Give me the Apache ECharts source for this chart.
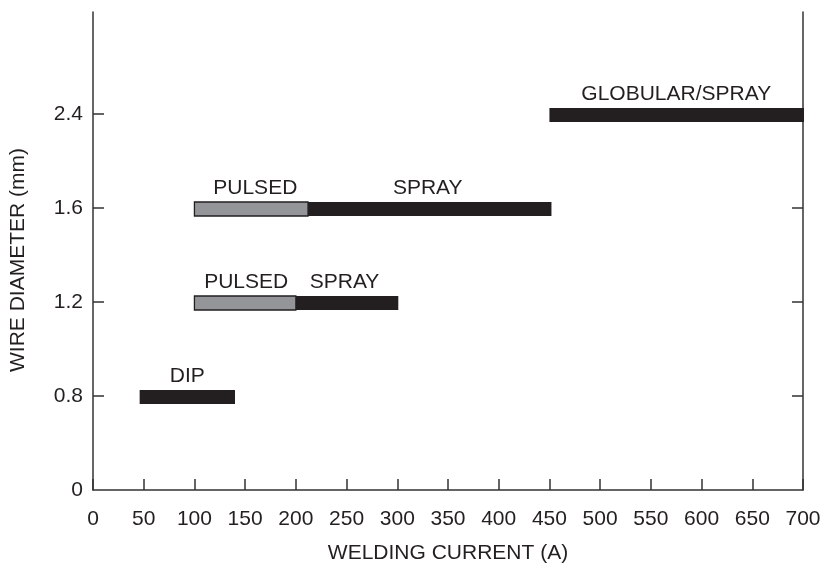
<!DOCTYPE html>
<html>
<head>
<meta charset="utf-8">
<script src="https://cdn.jsdelivr.net/npm/echarts@6/dist/echarts.min.js"></script>
<style>html,body{margin:0;padding:0;background:#fff}#c{width:824px;height:563px}</style>
</head>
<body>
<div id="c"></div>
<script>
// Y axis: evenly spaced wire diameters (category-like positions 0..4)
const yTickLabels = ['0', '0.8', '1.2', '1.6', '2.4'];
// X axis
const xMin = 0, xMax = 700, xInterval = 50;
// Bars: [start current (A), end current (A), diameter index]
const pulsedBars = [
  [100, 200, 2],
  [100, 212, 3]
];
const solidBars = [
  [46, 140, 1],
  [200, 301, 2],
  [212, 452, 3],
  [450, 701, 4]
];
// Annotation labels: [center current (A), diameter index, text]
const annotations = [
  [93, 1, 'DIP'],
  [151, 2, 'PULSED'],
  [248, 2, 'SPRAY'],
  [160, 3, 'PULSED'],
  [330, 3, 'SPRAY'],
  [575, 4, 'GLOBULAR/SPRAY']
];

const FONT = '"Liberation Sans", Arial, Helvetica, sans-serif';
const INK = '#231f20';
const AXIS = '#333333';

const chart = echarts.init(document.getElementById('c'), null, {renderer: 'canvas'});

function barRender(fill, stroke) {
  return function (params, api) {
    const a = api.coord([api.value(0), api.value(2)]);
    const b = api.coord([api.value(1), api.value(2)]);
    const h = 14;
    return {
      type: 'rect',
      shape: {x: a[0], y: a[1] - h / 2 + 1, width: b[0] - a[0], height: h},
      style: {fill: fill, stroke: stroke, lineWidth: stroke ? 1.3 : 0}
    };
  };
}

const option = {
  animation: false,
  backgroundColor: '#ffffff',
  grid: {left: 93, right: 21, top: 12, bottom: 73, containLabel: false, outerBoundsMode: 'none'},
  xAxis: {
    type: 'value',
    min: xMin, max: xMax, interval: xInterval,
    name: 'WELDING CURRENT (A)',
    nameLocation: 'middle',
    nameGap: 53,
    nameTextStyle: {fontFamily: FONT, fontSize: 21, color: INK},
    axisLine: {show: true, onZero: false, lineStyle: {color: AXIS, width: 1.5}},
    axisTick: {show: true, inside: true, length: 11, lineStyle: {color: AXIS, width: 1.5}},
    axisLabel: {fontFamily: FONT, fontSize: 21, color: INK, margin: 19},
    splitLine: {show: false}
  },
  yAxis: [
    {
      type: 'value',
      min: 0, max: 5.085, interval: 1,
      name: 'WIRE DIAMETER (mm)',
      nameLocation: 'middle',
      nameGap: 64,
      nameRotate: 90,
      nameTextStyle: {fontFamily: FONT, fontSize: 21, color: INK, padding: [0, 18, 0, 0]},
      axisLine: {show: true, onZero: false, lineStyle: {color: AXIS, width: 1.5}},
      axisTick: {show: true, inside: true, length: 11, customValues: [1, 2, 3, 4], lineStyle: {color: AXIS, width: 1.5}},
      axisLabel: {
        fontFamily: FONT, fontSize: 21, color: INK, margin: 10,
        customValues: [0, 1, 2, 3, 4],
        formatter: v => yTickLabels[Math.round(v)] !== undefined ? yTickLabels[Math.round(v)] : ''
      },
      splitLine: {show: false}
    },
    {
      type: 'value',
      position: 'right',
      min: 0, max: 5.085, interval: 1,
      axisLine: {show: true, onZero: false, lineStyle: {color: AXIS, width: 1.5}},
      axisTick: {show: true, inside: true, length: 11, customValues: [1, 2, 3, 4], lineStyle: {color: AXIS, width: 1.5}},
      axisLabel: {show: false},
      splitLine: {show: false}
    }
  ],
  series: [
    {
      type: 'custom',
      renderItem: barRender(INK, null),
      data: solidBars,
      encode: {x: [0, 1], y: 2},
      clip: false,
      z: 2
    },
    {
      type: 'custom',
      renderItem: barRender('#939598', INK),
      data: pulsedBars,
      encode: {x: [0, 1], y: 2},
      clip: false,
      z: 3
    },
    {
      type: 'custom',
      renderItem: function (params, api) {
        const p = api.coord([api.value(0), api.value(1)]);
        return {
          type: 'text',
          x: p[0], y: p[1] - 20,
          style: {
            text: annotations[params.dataIndex][2],
            fill: INK,
            font: '21px ' + FONT,
            align: 'center',
            verticalAlign: 'middle'
          }
        };
      },
      data: annotations.map(a => [a[0], a[1]]),
      encode: {x: 0, y: 1},
      clip: false,
      z: 4
    }
  ]
};
chart.setOption(option);
</script>
</body>
</html>
